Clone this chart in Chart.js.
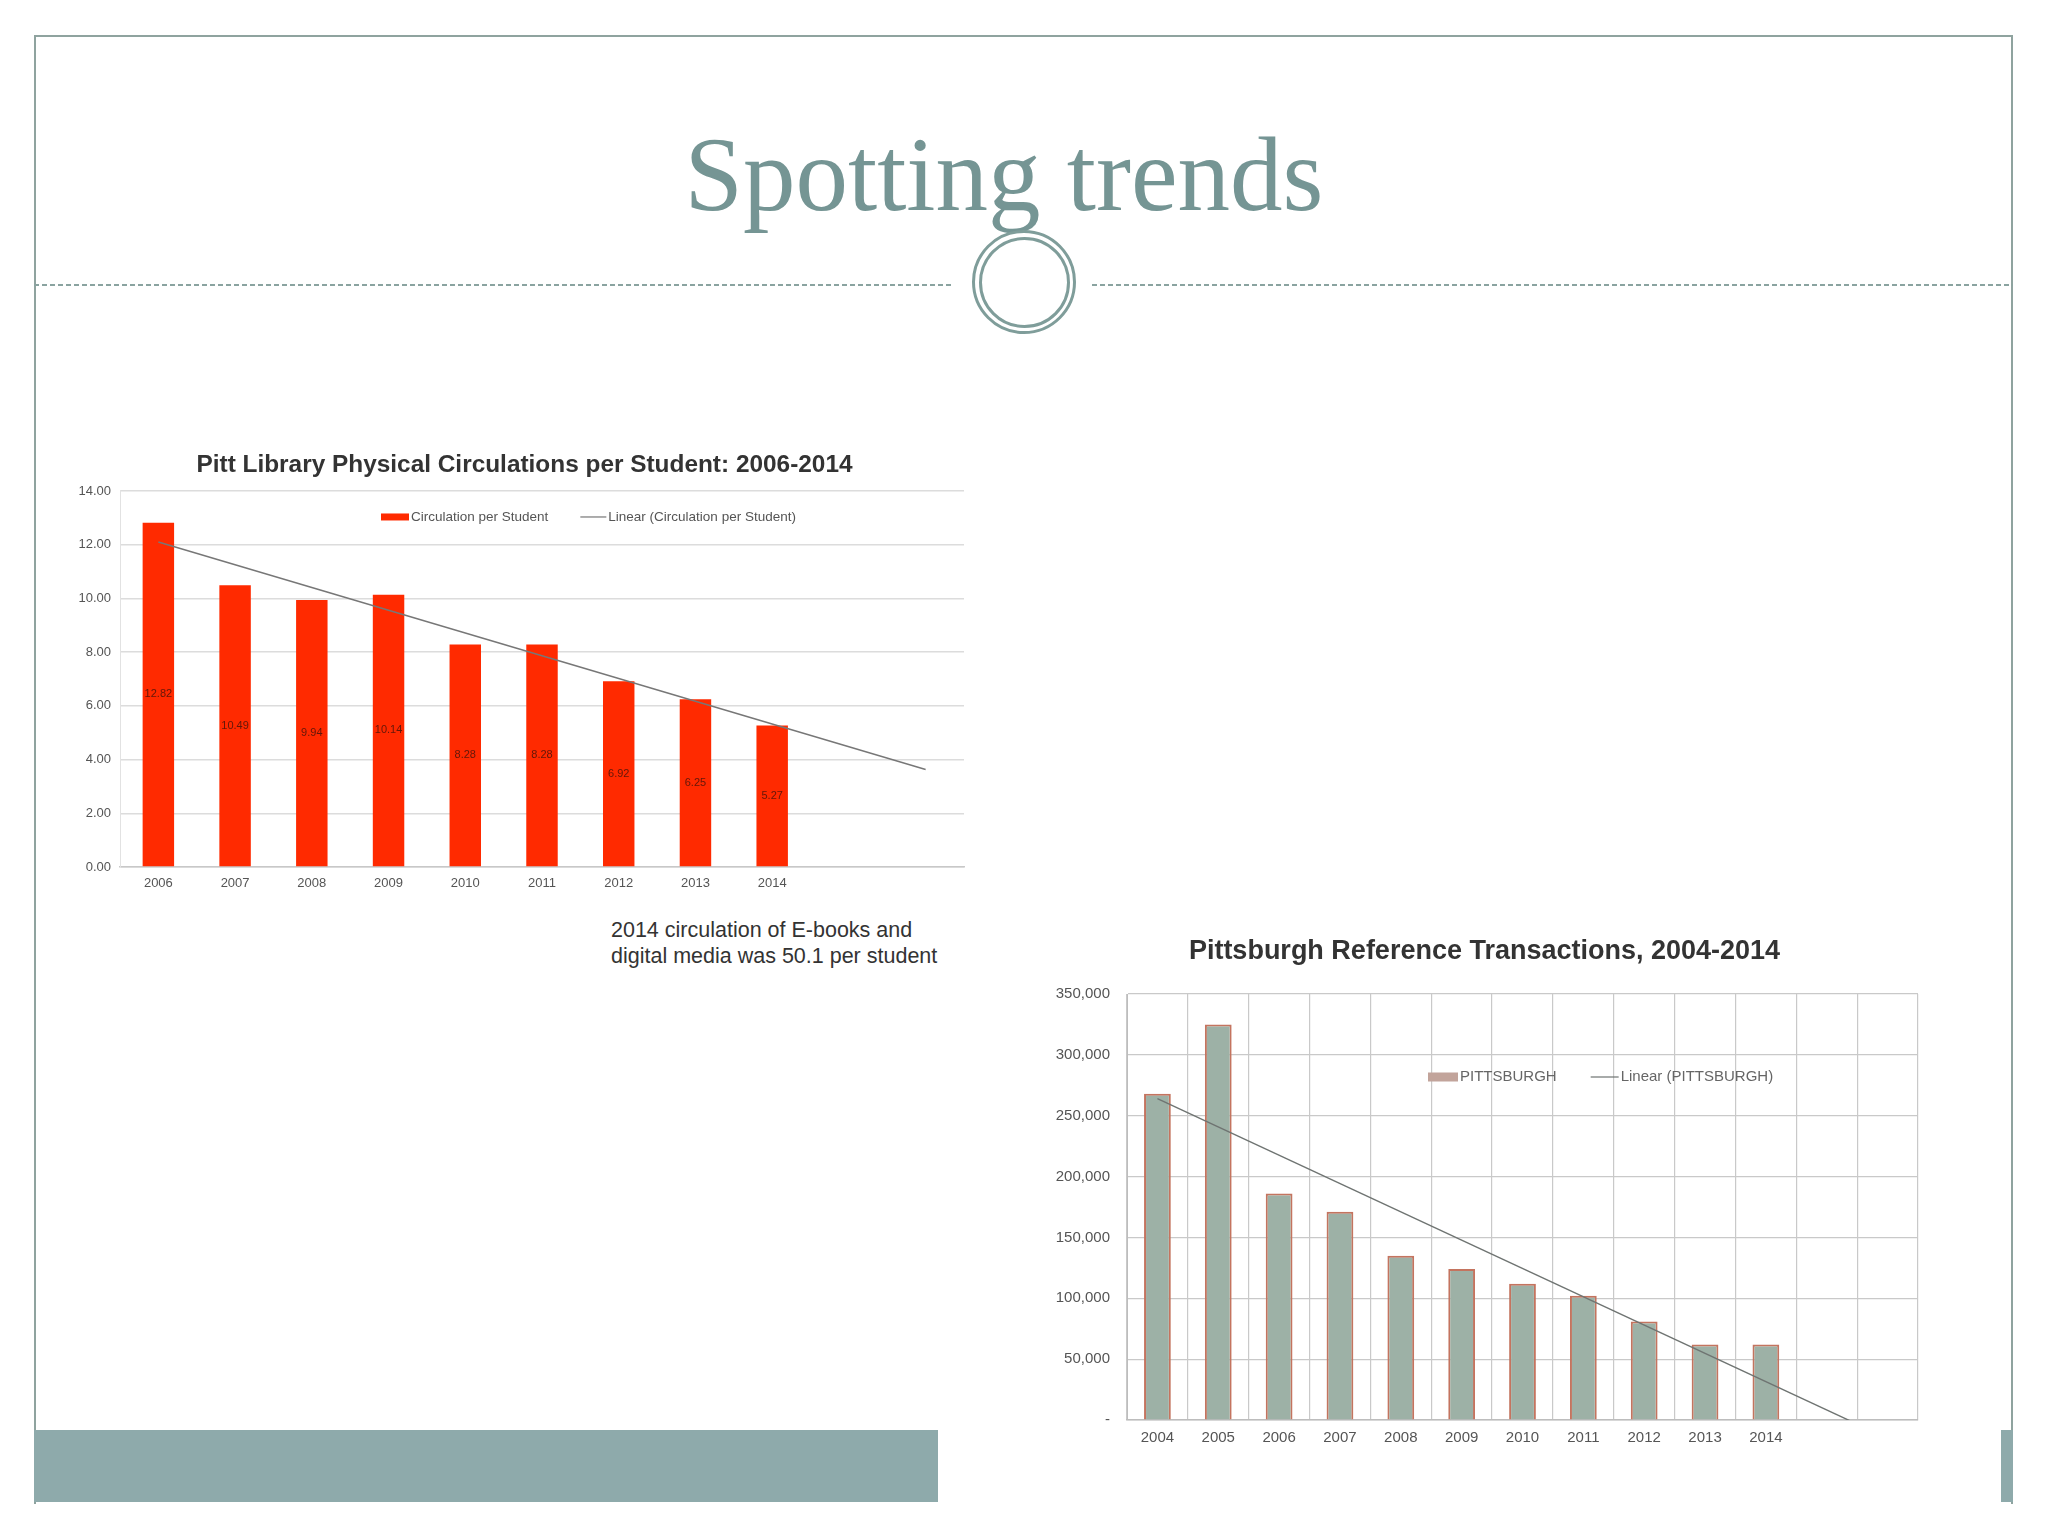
<!DOCTYPE html>
<html>
<head>
<meta charset="utf-8">
<title>Spotting trends</title>
<script src="https://cdn.jsdelivr.net/npm/chart.js@4.4.1/dist/chart.umd.min.js"></script>
<style>
  html, body { margin: 0; padding: 0; background: #fff; }
  body { width: 2048px; height: 1536px; position: relative; overflow: hidden; }
  .frame { position: absolute; left: 34px; top: 35px; width: 1975px; height: 1467px;
           border: 2px solid #8fa39f; border-bottom: none; }
  .footer { position: absolute; left: 34px; top: 1430px; width: 1979px; height: 72px; background: #8eaaab; }
  .headline { position: absolute; left: 0; top: 123px; width: 2008px; text-align: center;
              font: 105px/104px "Liberation Serif", "DejaVu Serif", serif; color: #759594; }
  .dash { position: absolute; top: 284px; height: 2px;
          background: repeating-linear-gradient(90deg, #8aa3a0 0 5px, transparent 5px 8px); }
  .ring { position: absolute; box-sizing: border-box; border-radius: 50%; border: 3px solid #7f9d9a; background: #fff; }
  .note { position: absolute; left: 611px; top: 917px; width: 329px; overflow: hidden; white-space: nowrap;
          font: 21.5px/26px "Liberation Sans", Arial, sans-serif; color: #333; }
  .whitebox { position: absolute; left: 938px; top: 890px; width: 1063px; height: 646px; background: #fff; }
  .box { position: absolute; }
</style>
</head>
<body>
<div class="frame"></div>
<div class="footer"></div>
<div class="headline">Spotting trends</div>
<div class="dash" style="left:34px; width:920px;"></div>
<div class="dash" style="left:1092px; width:921px;"></div>
<div class="ring" style="left:972px; top:230px; width:104px; height:104px;"></div>
<div class="ring" style="left:978.5px; top:236.5px; width:91px; height:91px;"></div>

<div class="box" style="left:60px; top:440px; width:929px; height:452px;"><canvas id="circChart"></canvas></div>
<div class="note">2014 circulation of E-books and<br>digital media was 50.1 per student</div>

<div class="whitebox"></div>
<div class="box" style="left:1037px; top:920px; width:895px; height:532px;"><canvas id="refChart"></canvas></div>

<script>
// Pitt Library physical circulations per student
const circYears = ["2006", "2007", "2008", "2009", "2010", "2011", "2012", "2013", "2014"];
const circPerStudent = [12.82, 10.49, 9.94, 10.14, 8.28, 8.28, 6.92, 6.25, 5.27];
const circTrendEnds = [12.10, 3.63];      // trend at 2006 and two periods after 2014
const circForecastSlots = ["", ""];

// Pittsburgh reference transactions
const refYears = ["2004", "2005", "2006", "2007", "2008", "2009", "2010", "2011", "2012", "2013", "2014"];
const refTransactions = [268000, 325000, 186000, 171000, 135000, 124000, 112000, 102000, 81000, 62000, 62000];
const refTrendEnds = [264000, -15000];    // trend at 2004 and two periods after 2014
const refForecastSlots = ["", ""];

Chart.defaults.font.family = "'Liberation Sans', Arial, sans-serif";
Chart.defaults.color = "#444";

// first and last point of a trend line, gaps in between
const trendSeries = (ends, count) => {
  let d = new Array(count).fill(null);
  d[0] = ends[0];
  d[count - 1] = ends[1];
  return d;
};

// empty axis on the right, only there to leave a margin the title can still use
const spacerAxis = (w) => ({
  position: "right",
  grid: { display: false },
  border: { display: false },
  ticks: { display: false },
  afterFit: (s) => { s.width = w; },
});

// legend drawn inside the plot area, like the spreadsheet charts
const insideLegend = {
  id: "insideLegend",
  afterDatasetsDraw(chart, args, opts) {
    const { ctx, chartArea } = chart;
    let x = chartArea.left + opts.x;
    const y = chartArea.top + opts.y;
    ctx.save();
    ctx.font = opts.font;
    ctx.textBaseline = "middle";
    chart.data.datasets.forEach((ds, i) => {
      const sw = opts.swatches[i];
      if (ds.type === "line") {
        ctx.strokeStyle = ds.borderColor;
        ctx.lineWidth = 1.2;
        ctx.beginPath();
        ctx.moveTo(x, y);
        ctx.lineTo(x + sw.w, y);
        ctx.stroke();
      } else {
        ctx.fillStyle = sw.color || ds.backgroundColor;
        ctx.fillRect(x, y - sw.h / 2, sw.w, sw.h);
      }
      x += sw.w + 2;
      ctx.fillStyle = opts.color;
      ctx.fillText(ds.label, x, y);
      x += ctx.measureText(ds.label).width + sw.gap;
    });
    ctx.restore();
  },
};

// value written in the middle of each bar
const barValues = {
  id: "barValues",
  afterDatasetsDraw(chart, args, opts) {
    if (!opts.show) return;
    const { ctx } = chart;
    const meta = chart.getDatasetMeta(0);
    ctx.save();
    ctx.font = opts.font;
    ctx.fillStyle = opts.color;
    ctx.textAlign = "center";
    ctx.textBaseline = "middle";
    meta.data.forEach((bar, i) => {
      const v = chart.data.datasets[0].data[i];
      if (v == null) return;
      ctx.fillText(v.toFixed(2), bar.x, (bar.y + bar.base) / 2);
    });
    ctx.restore();
  },
};

const circLabels = circYears.concat(circForecastSlots);
let circChart = new Chart(document.getElementById("circChart"), {
  type: "bar",
  data: {
    labels: circLabels,
    datasets: [
      {
        label: "Circulation per Student",
        data: circPerStudent,
        backgroundColor: "#ff2a00",
        barPercentage: 0.41,
        categoryPercentage: 1.0,
        order: 1,
      },
      {
        type: "line",
        label: "Linear (Circulation per Student)",
        data: trendSeries(circTrendEnds, circLabels.length),
        spanGaps: true,
        borderColor: "#777777",
        borderWidth: 1.4,
        pointRadius: 0,
        order: 0,
      },
    ],
  },
  options: {
    responsive: true,
    maintainAspectRatio: false,
    animation: false,
    plugins: {
      legend: { display: false },
      tooltip: { enabled: false },
      title: {
        display: true,
        text: "Pitt Library Physical Circulations per Student: 2006-2014",
        color: "#333",
        font: { size: 24.4, weight: "bold" },
        padding: { top: 10.2, bottom: 11.5 },
      },
      insideLegend: {
        x: 261,
        y: 26,
        font: "13.5px 'Liberation Sans', Arial, sans-serif",
        color: "#555",
        swatches: [
          { w: 28, h: 7, gap: 32 },
          { w: 26, gap: 0 },
        ],
      },
      barValues: { show: true, font: "11px 'Liberation Sans', Arial, sans-serif", color: "rgba(70,20,10,0.85)" },
    },
    scales: {
      x: {
        grid: { display: false, drawTicks: false },
        border: { color: "#c8c8c8", width: 1.5 },
        ticks: { padding: 9, font: { size: 13 }, color: "#555", maxRotation: 0, autoSkip: false },
        afterFit: (s) => { s.height = 25; },
      },
      y: {
        min: 0,
        max: 14,
        grid: { color: "#dcdcdc", lineWidth: 1.5, drawTicks: false },
        border: { color: "#e2e2e2" },
        ticks: { stepSize: 2, padding: 9, font: { size: 13 }, color: "#555", callback: (v) => v.toFixed(2) },
        afterFit: (s) => { s.width = 60; },
      },
      pad: spacerAxis(25),
    },
  },
  plugins: [insideLegend, barValues],
});

const refLabels = refYears.concat(refForecastSlots);
let refChart = new Chart(document.getElementById("refChart"), {
  type: "bar",
  data: {
    labels: refLabels,
    datasets: [
      {
        label: "PITTSBURGH",
        data: refTransactions,
        backgroundColor: "#9db1a6",
        borderColor: "#c4745f",
        borderWidth: 2,
        borderSkipped: "bottom",
        barPercentage: 0.44,
        categoryPercentage: 1.0,
        order: 1,
      },
      {
        type: "line",
        label: "Linear (PITTSBURGH)",
        data: trendSeries(refTrendEnds, refLabels.length),
        spanGaps: true,
        borderColor: "#6f7472",
        borderWidth: 1.4,
        pointRadius: 0,
        clip: 0,
        order: 0,
      },
    ],
  },
  options: {
    responsive: true,
    maintainAspectRatio: false,
    animation: false,
    plugins: {
      legend: { display: false },
      tooltip: { enabled: false },
      title: {
        display: true,
        text: "Pittsburgh Reference Transactions, 2004-2014",
        color: "#333",
        font: { size: 27, weight: "bold" },
        padding: { top: 15.5, bottom: 26.1 },
      },
      insideLegend: {
        x: 301,
        y: 83,
        font: "15px 'Liberation Sans', Arial, sans-serif",
        color: "#666",
        swatches: [
          { w: 30, h: 9, gap: 34, color: "#c2a49b" },
          { w: 28, gap: 0 },
        ],
      },
      barValues: { show: false },
    },
    scales: {
      x: {
        grid: { color: "#c9c9c9", lineWidth: 1.2, drawTicks: false },
        border: { color: "#bdbdbd", width: 1.5 },
        ticks: { padding: 9, font: { size: 15 }, color: "#555", maxRotation: 0, autoSkip: false },
        afterFit: (s) => { s.height = 32; },
      },
      y: {
        min: 0,
        max: 350000,
        grid: { color: "#c9c9c9", lineWidth: 1.2, drawTicks: false },
        border: { color: "#bdbdbd" },
        ticks: {
          stepSize: 50000,
          padding: 17,
          font: { size: 15 },
          color: "#555",
          callback: (v) => (v === 0 ? "-" : v.toLocaleString("en-US")),
        },
        afterFit: (s) => { s.width = 90; },
      },
      pad: spacerAxis(14),
    },
  },
  plugins: [insideLegend, barValues],
});
</script>
</body>
</html>
